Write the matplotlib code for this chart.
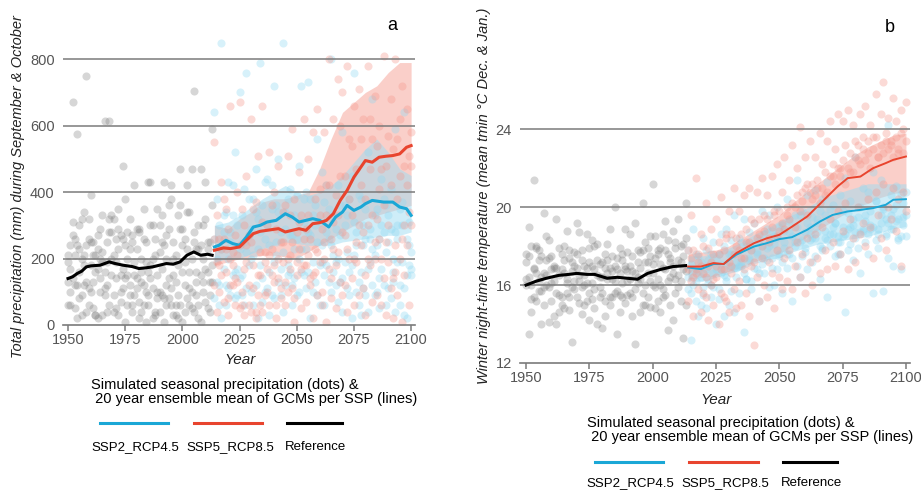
import numpy as np
import matplotlib
matplotlib.use("Agg")
import matplotlib.pyplot as plt
from matplotlib.lines import Line2D

plt.rcParams['font.family'] = ['Liberation Sans', 'DejaVu Sans']

W, H = 921, 492

# ---------------- data: panel a (precipitation) ----------------
ref_years = list(range(1950, 2014))
fut_years = list(range(2014, 2101))

p_ref_dots = [
    [210, 170, 670, 120, 575, 230, 320, 180, 750, 60,
     390, 250, 30, 170, 200, 330, 615, 120, 615, 280,
     90, 260, 350, 150, 480, 240, 60, 320, 270, 420,
     110, 290, 130, 60, 250, 430, 180, 300, 40, 350,
     220, 90, 430, 270, 140, 380, 200, 60, 330, 470,
     240, 120, 420, 160, 470, 705, 90, 300, 470, 130,
     430, 50, 250, 590],
    [130, 60, 310, 210, 20, 160, 90, 340, 240, 110,
     180, 50, 210, 270, 100, 30, 160, 250, 60, 330,
     210, 140, 30, 270, 110, 380, 200, 90, 250, 150,
     290, 70, 200, 120, 10, 160, 430, 110, 260, 80,
     300, 170, 10, 120, 360, 60, 250, 130, 20, 290,
     10, 260, 80, 340, 200, 40, 230, 60, 150, 300,
     170, 250, 130, 360],
    [60, 240, 140, 50, 120, 300, 30, 210, 130, 320,
     100, 210, 160, 20, 290, 220, 90, 190, 280, 150,
     320, 50, 230, 100, 260, 10, 150, 230, 60, 190,
     140, 280, 40, 350, 100, 60, 300, 200, 30, 150,
     100, 330, 240, 60, 80, 420, 150, 30, 180, 360,
     290, 190, 230, 60, 100, 250, 160, 20, 240, 100,
     320, 160, 90, 180],
    [190, 100, 270, 260, 240, 80, 200, 120, 40, 260,
     250, 130, 30, 230, 140, 190, 110, 40, 320, 200,
     40, 190, 290, 70, 170, 140, 280, 120, 40, 90,
     230, 20, 160, 260, 190, 90, 140, 20, 210, 100,
     40, 250, 80, 200, 290, 110, 30, 210, 90, 60,
     160, 40, 340, 110, 50, 280, 130, 230, 10, 200,
     70, 230, 40, 130],
]

p_ssp2_dots = [
    [640, 200, 120, 850, 330, 60, 430, 280, 150, 520,
     170, 700, 90, 250, 760, 380, 200, 60, 470, 320,
     790, 140, 260, 440, 30, 350, 720, 210, 500, 90,
     850, 290, 180, 410, 60, 330, 260, 480, 720, 150,
     230, 730, 380, 100, 300, 560, 180, 460, 60, 280,
     350, 800, 210, 120, 420, 270, 580, 190, 330, 90,
     450, 760, 240, 130, 380, 300, 90, 520, 260, 680,
     210, 350, 140, 440, 280, 60, 330, 410, 200, 590,
     300, 120, 370, 640, 260, 180, 220],
    [260, 380, 60, 230, 170, 340, 110, 250, 420, 80,
     300, 230, 150, 410, 110, 180, 290, 380, 120, 230,
     180, 360, 100, 300, 160, 420, 80, 250, 340, 170,
     220, 120, 380, 160, 270, 140, 390, 100, 230, 310,
     400, 160, 270, 190, 360, 90, 310, 240, 150, 420,
     130, 240, 330, 190, 70, 360, 140, 300, 220, 380,
     180, 310, 100, 390, 30, 240, 350, 170, 290, 120,
     330, 100, 260, 170, 380, 220, 110, 290, 160, 40,
     260, 350, 190, 30, 150, 310, 170],
    [80, 130, 300, 20, 280, 120, 200, 90, 330, 160,
     90, 140, 330, 60, 220, 270, 100, 210, 340, 20,
     280, 70, 430, 110, 240, 90, 190, 360, 130, 280,
     40, 340, 150, 270, 120, 230, 90, 200, 160, 380,
     110, 280, 20, 330, 130, 250, 60, 190, 370, 180,
     260, 100, 160, 290, 200, 130, 40, 360, 110, 160,
     20, 210, 280, 60, 160, 110, 260, 40, 190, 230,
     90, 240, 50, 300, 120, 360, 250, 80, 130, 280,
     190, 60, 300, 110, 20, 240, 150],
]

p_ssp5_dots = [
    [550, 190, 100, 430, 260, 350, 80, 660, 220, 140,
     400, 670, 60, 300, 450, 120, 620, 350, 40, 510,
     220, 660, 90, 300, 520, 150, 400, 60, 480, 250,
     340, 130, 510, 210, 590, 10, 280, 460, 170, 620,
     290, 500, 140, 580, 230, 650, 330, 100, 580, 420,
     800, 260, 620, 180, 740, 450, 700, 120, 780, 380,
     540, 660, 250, 710, 420, 620, 150, 780, 470, 560,
     690, 320, 600, 470, 810, 250, 570, 680, 140, 800,
     560, 450, 720, 300, 650, 510, 480],
    [260, 330, 180, 230, 380, 160, 290, 200, 120, 270,
     210, 50, 350, 170, 240, 270, 40, 180, 370, 150,
     60, 310, 220, 170, 210, 360, 130, 290, 200, 110,
     250, 360, 200, 330, 110, 380, 190, 230, 330, 260,
     180, 330, 260, 150, 380, 220, 410, 290, 200, 330,
     420, 140, 310, 390, 220, 600, 280, 450, 230, 560,
     330, 200, 470, 300, 560, 280, 380, 200, 620, 330,
     250, 540, 410, 200, 360, 480, 300, 420, 530, 240,
     380, 620, 260, 480, 420, 340, 580],
    [120, 40, 260, 150, 70, 230, 30, 120, 180, 60,
     130, 240, 100, 30, 190, 60, 250, 110, 20, 90,
     150, 40, 190, 100, 60, 230, 180, 20, 140, 80,
     190, 60, 100, 170, 250, 80, 150, 310, 50, 180,
     70, 210, 120, 20, 160, 90, 190, 60, 250, 10,
     170, 80, 230, 50, 330, 130, 90, 270, 40, 200,
     140, 60, 190, 90, 240, 110, 30, 300, 180, 70,
     200, 90, 260, 60, 140, 30, 190, 110, 20, 160,
     90, 200, 10, 150, 240, 60, 300],
]

p_ref_yr = [1950, 1952, 1954, 1956, 1958, 1960, 1964, 1968, 1970, 1974, 1978, 1981,
            1984, 1987, 1990, 1993, 1996, 1999, 2002, 2005, 2008, 2011, 2013]
p_ref = [140, 145, 155, 162, 175, 178, 180, 190, 186, 180, 176, 170,
         172, 175, 180, 185, 183, 190, 210, 220, 210, 213, 210]

p_ssp2_yr = [2014, 2016, 2019, 2022, 2025, 2028, 2031, 2034, 2037, 2041, 2045, 2048,
             2051, 2054, 2057, 2060, 2064, 2067, 2070, 2072, 2075, 2078, 2080, 2083,
             2086, 2088, 2092, 2095, 2098, 2100]
p_ssp2 = [235, 240, 255, 245, 240, 265, 295, 300, 310, 315, 335, 325,
          310, 315, 320, 315, 295, 325, 340, 360, 345, 355, 365, 375,
          372, 370, 370, 355, 350, 330]

p_ssp5_yr = [2014, 2018, 2021, 2025, 2028, 2031, 2034, 2037, 2042, 2045, 2048, 2051,
             2054, 2057, 2060, 2063, 2066, 2069, 2072, 2075, 2078, 2080, 2083, 2086,
             2089, 2092, 2095, 2098, 2100]
p_ssp5 = [225, 232, 230, 235, 255, 275, 282, 285, 290, 280, 285, 290,
          285, 305, 308, 315, 335, 375, 405, 445, 475, 495, 490, 505,
          508, 510, 515, 535, 540]

band_years = [2014, 2020, 2025, 2030, 2035, 2040, 2045, 2050, 2055, 2060,
              2065, 2070, 2075, 2080, 2085, 2090, 2095, 2100]
p_red_lo = [180, 190, 200, 205, 210, 210, 205, 200, 220, 240, 260, 280, 300, 320, 330, 340, 350, 360]
p_red_hi = [300, 290, 320, 340, 370, 380, 380, 390, 400, 470, 560, 640, 670, 700, 720, 760, 790, 790]
p_blue_lo = [190, 200, 200, 215, 230, 240, 250, 245, 240, 240, 240, 250, 255, 260, 265, 270, 270, 280]
p_blue_hi = [300, 310, 330, 355, 380, 400, 420, 400, 390, 400, 420, 450, 490, 530, 560, 520, 470, 450]

# ---------------- data: panel b (temperature) ----------------
t_ref_dots = [
    [17.2, 19.0, 15.3, 21.4, 16.6, 17.8, 14.0, 19.7, 16.0, 18.3,
     15.2, 17.0, 19.4, 14.6, 16.8, 18.0, 15.6, 17.8, 13.1, 16.2,
     19.2, 15.1, 17.3, 16.0, 18.6, 14.2, 17.0, 15.8, 18.1, 16.4,
     13.8, 17.6, 16.3, 18.9, 15.4, 20.0, 16.8, 14.6, 17.6, 18.9,
     15.5, 17.0, 14.4, 19.2, 16.1, 17.7, 20.2, 15.0, 17.2, 18.5,
     21.2, 14.8, 17.6, 16.0, 18.6, 19.3, 13.7, 17.4, 18.8, 15.6,
     19.4, 16.2, 18.1, 20.2],
    [16.0, 13.5, 18.0, 16.8, 15.2, 17.3, 16.4, 15.0, 18.5, 14.1,
     17.5, 16.2, 14.0, 17.9, 15.4, 16.6, 18.8, 14.7, 17.2, 15.8,
     16.9, 18.7, 14.5, 17.0, 16.1, 17.9, 15.3, 18.0, 14.0, 17.1,
     16.4, 15.2, 18.1, 16.9, 17.5, 15.6, 13.5, 16.6, 17.3, 15.1,
     17.7, 15.6, 16.7, 13.0, 17.8, 16.3, 15.0, 18.2, 16.6, 14.9,
     17.1, 15.9, 17.8, 14.6, 16.9, 15.5, 17.6, 16.4, 14.2, 17.9,
     15.9, 17.2, 13.3, 18.4],
    [17.6, 16.4, 14.6, 16.9, 18.0, 15.7, 17.5, 15.9, 16.5, 17.4,
     16.1, 14.4, 16.9, 15.5, 17.6, 14.8, 16.3, 17.4, 15.9, 17.7,
     15.4, 16.5, 17.8, 15.0, 16.9, 15.6, 18.3, 14.8, 16.5, 15.9,
     17.2, 14.4, 16.6, 15.4, 16.3, 17.0, 15.7, 17.9, 15.4, 16.8,
     16.2, 18.6, 15.4, 16.6, 17.2, 14.6, 17.8, 16.0, 15.4, 17.5,
     16.0, 17.4, 15.2, 17.9, 15.8, 16.8, 18.3, 15.0, 16.6, 16.3,
     17.3, 15.2, 16.8, 15.0],
    [16.3, 17.5, 16.0, 15.4, 17.9, 16.2, 15.7, 16.6, 17.3, 15.9,
     16.8, 16.9, 15.6, 16.5, 15.0, 17.3, 16.1, 15.4, 16.7, 17.0,
     17.6, 16.2, 15.9, 16.5, 15.2, 17.2, 16.1, 16.8, 17.3, 15.4,
     15.6, 16.9, 17.3, 15.0, 16.7, 16.2, 17.4, 15.5, 16.1, 17.0,
     16.7, 16.3, 17.5, 15.8, 16.4, 16.9, 15.6, 17.2, 17.9, 16.2,
     16.6, 18.5, 16.3, 17.1, 15.4, 17.8, 16.2, 17.2, 17.0, 18.2,
     16.5, 18.0, 17.5, 16.7],
]

t_ssp2_dots = [
    [17.8, 15.6, 18.9, 16.2, 17.5, 15.0, 18.4, 16.8, 17.3, 16.0,
     18.2, 14.0, 17.6, 18.6, 16.5, 18.9, 17.0, 15.7, 19.6, 16.9,
     18.4, 17.2, 19.4, 16.3, 18.7, 17.8, 19.2, 16.8, 18.3, 19.8,
     17.4, 18.9, 19.6, 16.9, 18.5, 20.0, 17.6, 19.1, 18.2, 20.4,
     18.7, 17.4, 19.6, 21.4, 18.2, 19.8, 17.9, 20.6, 19.0, 18.4,
     20.9, 19.2, 18.0, 20.4, 19.6, 21.3, 18.6, 20.1, 19.2, 17.6,
     20.6, 19.8, 21.5, 18.9, 20.3, 19.4, 22.6, 20.0, 18.7, 21.0,
     19.6, 20.8, 19.1, 21.8, 20.3, 18.9, 21.4, 20.0, 19.4, 24.2,
     20.6, 19.9, 21.1, 18.4, 20.7, 19.5, 20.8],
    [16.4, 17.1, 16.0, 17.6, 16.7, 17.2, 15.5, 17.8, 16.3, 17.6,
     16.6, 17.4, 15.8, 17.1, 18.0, 16.4, 17.6, 18.3, 16.9, 17.2,
     17.0, 18.2, 16.6, 18.0, 17.3, 16.2, 18.1, 17.6, 16.6, 18.0,
     18.6, 17.3, 18.0, 18.8, 16.0, 18.4, 19.0, 17.2, 18.8, 17.6,
     19.3, 18.5, 18.0, 19.0, 19.6, 17.5, 18.7, 19.2, 18.3, 19.5,
     18.4, 19.4, 19.8, 17.8, 18.8, 18.3, 19.9, 18.6, 19.2, 18.5,
     18.2, 19.0, 18.6, 19.7, 18.1, 19.1, 18.7, 19.5, 20.0, 18.9,
     19.3, 18.6, 19.8, 19.0, 20.3, 18.6, 19.6, 19.9, 18.5, 19.2,
     19.6, 18.9, 20.1, 19.4, 18.5, 20.2, 19.6],
    [15.8, 13.2, 16.7, 15.2, 14.4, 16.4, 15.9, 14.8, 16.1, 15.4,
     15.9, 16.8, 15.3, 16.6, 14.4, 16.2, 15.0, 17.6, 14.6, 16.4,
     15.6, 17.0, 13.6, 16.3, 17.4, 15.8, 16.9, 17.7, 15.2, 17.1,
     16.6, 17.9, 15.9, 17.4, 18.1, 16.8, 17.5, 15.6, 17.9, 16.9,
     17.6, 15.2, 18.2, 17.0, 16.4, 18.3, 17.7, 16.8, 18.6, 17.2,
     17.5, 18.7, 16.3, 17.9, 18.4, 15.4, 18.0, 19.0, 17.5, 18.2,
     17.6, 18.5, 14.6, 17.8, 19.0, 17.3, 18.4, 17.9, 16.6, 18.8,
     18.2, 17.6, 18.9, 15.6, 18.3, 17.9, 19.2, 15.7, 18.6, 17.4,
     18.9, 17.0, 19.3, 18.3, 16.8, 19.1, 18.5],
]

t_ssp5_dots = [
    [17.8, 19.6, 16.4, 21.5, 17.2, 18.6, 15.6, 20.2, 17.0, 18.9,
     16.3, 19.4, 17.6, 20.5, 15.4, 18.6, 19.8, 17.0, 21.0, 18.4,
     19.8, 17.4, 20.6, 18.2, 21.0, 19.4, 17.2, 20.8, 18.6, 21.5,
     19.6, 20.6, 18.4, 21.6, 19.8, 22.2, 18.8, 20.8, 22.6, 19.6,
     21.4, 23.2, 20.0, 22.0, 24.1, 20.8, 22.6, 21.2, 23.4, 20.4,
     22.6, 21.0, 23.8, 22.2, 20.6, 23.4, 24.4, 21.6, 23.0, 24.8,
     22.0, 24.4, 23.2, 25.0, 21.8, 24.2, 23.4, 22.4, 24.8, 23.6,
     25.2, 22.8, 24.2, 23.6, 25.8, 22.6, 24.8, 26.4, 23.4, 24.6,
     23.2, 25.6, 24.4, 22.8, 25.0, 24.0, 25.4],
    [16.8, 17.4, 17.8, 16.6, 17.6, 17.0, 18.0, 16.4, 17.9, 17.2,
     17.6, 17.0, 18.2, 16.8, 17.8, 18.4, 17.2, 18.6, 17.6, 18.0,
     17.8, 18.6, 17.4, 18.9, 18.2, 17.8, 19.2, 18.4, 19.4, 18.0,
     18.8, 19.4, 18.2, 19.0, 19.6, 18.5, 19.8, 19.2, 18.9, 20.0,
     19.4, 20.2, 19.0, 20.6, 19.8, 20.3, 21.0, 19.6, 20.8, 21.2,
     20.6, 21.4, 20.2, 21.0, 21.8, 20.8, 21.6, 22.2, 21.2, 22.0,
     21.6, 22.4, 21.2, 22.0, 22.8, 21.8, 22.6, 23.2, 22.2, 23.0,
     22.4, 23.4, 22.0, 23.0, 23.6, 22.6, 23.2, 22.8, 23.8, 23.0,
     23.4, 22.6, 23.6, 23.0, 23.8, 22.8, 23.4],
    [15.2, 16.2, 14.4, 16.8, 15.8, 14.6, 16.6, 15.4, 14.2, 16.0,
     15.0, 16.4, 14.0, 15.6, 16.8, 15.2, 14.6, 16.6, 15.8, 14.8,
     16.2, 15.0, 16.8, 15.6, 14.4, 17.0, 12.9, 16.4, 15.2, 17.4,
     16.0, 15.4, 17.2, 16.6, 14.8, 17.8, 16.4, 15.8, 17.4, 16.2,
     17.8, 15.8, 17.0, 18.2, 16.4, 17.6, 15.6, 18.4, 17.2, 16.0,
     18.6, 17.4, 16.6, 19.0, 17.8, 16.8, 19.4, 18.2, 17.0, 19.8,
     17.6, 18.8, 20.2, 16.8, 19.4, 18.4, 17.2, 20.0, 18.6, 19.2,
     18.0, 20.4, 19.0, 17.4, 20.8, 19.6, 18.4, 21.2, 17.8, 20.0,
     19.4, 21.0, 18.8, 20.4, 17.0, 20.8, 19.8],
]

t_ref_yr = [1950, 1954, 1958, 1963, 1967, 1970, 1974, 1977, 1982, 1986, 1990, 1994,
            1998, 2003, 2008, 2013]
t_ref = [16.0, 16.2, 16.35, 16.5, 16.55, 16.6, 16.55, 16.55, 16.35, 16.4, 16.35, 16.3,
         16.6, 16.8, 16.95, 17.0]

t_ssp2_yr = [2014, 2019, 2024, 2028, 2033, 2040, 2045, 2050, 2055, 2061, 2066, 2071,
             2077, 2082, 2087, 2092, 2095, 2100]
t_ssp2 = [16.9, 16.82, 17.08, 17.08, 17.56, 17.98, 18.15, 18.36, 18.46, 18.84, 19.26, 19.6,
          19.78, 19.86, 19.95, 20.12, 20.38, 20.41]

t_ssp5_yr = [2014, 2019, 2024, 2028, 2033, 2040, 2045, 2050, 2055, 2061, 2065, 2069,
             2073, 2077, 2082, 2087, 2092, 2095, 2100]
t_ssp5 = [16.95, 16.95, 17.13, 17.08, 17.64, 18.15, 18.4, 18.58, 19.0, 19.52, 20.03, 20.55,
          21.06, 21.49, 21.57, 22.0, 22.26, 22.43, 22.6]

t_red_lo = [16.3, 16.4, 16.5, 16.7, 16.9, 17.2, 17.4, 17.6, 18.0, 18.4, 18.8, 19.2, 19.6, 20.0, 20.2, 20.5, 20.7, 20.8]
t_red_hi = [17.6, 17.7, 17.8, 18.0, 18.4, 18.8, 19.2, 19.6, 20.2, 20.7, 21.2, 21.7, 22.2, 22.7, 23.1, 23.4, 23.7, 23.8]
t_blue_lo = [16.2, 16.2, 16.4, 16.6, 16.8, 17.1, 17.3, 17.4, 17.7, 17.9, 18.1, 18.2, 18.3, 18.4, 18.5, 18.7, 18.9, 19.0]
t_blue_hi = [17.5, 17.5, 17.7, 17.9, 18.2, 18.6, 18.9, 19.3, 19.6, 19.9, 20.3, 20.6, 20.8, 21.0, 21.2, 21.2, 21.2, 21.2]

xticks = [1950, 1975, 2000, 2025, 2050, 2075, 2100]
legend_labels = ["SSP2_RCP4.5", "SSP5_RCP8.5", "Reference"]
legend_title = "Simulated seasonal precipitation (dots) &\n 20 year ensemble mean of GCMs per SSP (lines)"

# colours
BLUE = '#1aa7d6'
RED = '#e8442e'
GRID = '#7a7a7a'
TICK = '#555555'


def fx(x):
    return x / W


def fy(y):
    return 1 - y / H


def draw_panel(ax, ref_dots, ssp2_dots, ssp5_dots, ref_yr, ref, s2_yr, s2, s5_yr, s5,
               blo, bhi, rlo, rhi, grid, lw):
    ax.fill_between(band_years, rlo, rhi, color='#f7a89e', alpha=0.55, lw=0)
    ax.fill_between(band_years, blo, bhi, color='#9edcf2', alpha=0.5, lw=0)
    for m in ref_dots:
        ax.scatter(ref_years, m, s=34, color='#7a7a7a', alpha=0.3, lw=0)
    for m in ssp2_dots:
        ax.scatter(fut_years, m, s=34, color='#8fd8f2', alpha=0.35, lw=0)
    for m in ssp5_dots:
        ax.scatter(fut_years, m, s=34, color='#f5978c', alpha=0.35, lw=0)
    for g in grid:
        ax.axhline(g, color=GRID, lw=1.1, zorder=1)
    ax.plot(ref_yr, ref, color='black', lw=2.2, zorder=5)
    ax.plot(s2_yr, s2, color=BLUE, lw=lw, zorder=5)
    ax.plot(s5_yr, s5, color=RED, lw=lw, zorder=5)
    for sp in ['top', 'right', 'left']:
        ax.spines[sp].set_visible(False)
    ax.spines['bottom'].set_color(GRID)
    ax.spines['bottom'].set_linewidth(1.2)
    ax.set_xticks(xticks)
    ax.tick_params(axis='x', colors=GRID, labelcolor=TICK, labelsize=10.5, length=4, width=1.1, pad=2)
    ax.tick_params(axis='y', length=0, labelcolor=TICK, labelsize=10.5, pad=6)
    ax.set_facecolor('none')


fig = plt.figure(figsize=(W / 100, H / 100), dpi=100)

# panel a
ax1 = fig.add_axes([fx(63), fy(325), fx(415) - fx(63), fy(26) - fy(325)])
draw_panel(ax1, p_ref_dots, p_ssp2_dots, p_ssp5_dots, p_ref_yr, p_ref, p_ssp2_yr, p_ssp2,
           p_ssp5_yr, p_ssp5, p_blue_lo, p_blue_hi, p_red_lo, p_red_hi, [200, 400, 600, 800], 2.2)
ax1.set_xlim(1947.8, 2101.7)
ax1.set_ylim(0, 900)
ax1.set_yticks([0, 200, 400, 600, 800])

# panel b
ax2 = fig.add_axes([fx(520), fy(363), fx(910) - fx(520), fy(26) - fy(363)])
draw_panel(ax2, t_ref_dots, t_ssp2_dots, t_ssp5_dots, t_ref_yr, t_ref, t_ssp2_yr, t_ssp2,
           t_ssp5_yr, t_ssp5, t_blue_lo, t_blue_hi, t_red_lo, t_red_hi, [16, 20, 24], 1.4)
ax2.set_xlim(1947.6, 2101.6)
ax2.set_ylim(12, 29.3)
ax2.set_yticks([12, 16, 20, 24])

# axis titles
fig.text(fx(18), fy(187), "Total precipitation (mm) during September & October", rotation=90,
         style='italic', fontsize=10.5, ha='center', va='center', color='#222222')
fig.text(fx(484), fy(196), "Winter night-time temperature (mean tmin \u00b0C Dec. & Jan.)", rotation=90,
         style='italic', fontsize=10.5, ha='center', va='center', color='#222222')
fig.text(fx(240), fy(360), "Year", style='italic', fontsize=11, ha='center', va='center', color='#222222')
fig.text(fx(716), fy(400), "Year", style='italic', fontsize=11, ha='center', va='center', color='#222222')
fig.text(fx(392), fy(25), "a", fontsize=13, ha='center', va='center')
fig.text(fx(890), fy(28), "b", fontsize=13, ha='center', va='center')

# legends below each panel
for (tx, ty, ly, lab_y, segs, lab_x) in [
        (91, 392, 423, 450, [(100, 168), (194, 262), (287, 342)], [91, 186, 285]),
        (587, 430, 462, 486, [(595, 663), (689, 758), (783, 837)], [586, 681, 781])]:
    fig.text(fx(tx), fy(ty), legend_title, fontsize=10.5, ha='left', va='center', linespacing=1.05)
    for (x0, x1), c, lx, lab in zip(segs, [BLUE, RED, 'black'], lab_x, legend_labels):
        fig.add_artist(Line2D([fx(x0), fx(x1)], [fy(ly), fy(ly)], color=c, lw=2.2,
                              transform=fig.transFigure))
        fig.text(fx(lx), fy(lab_y), lab, fontsize=9.5, ha='left', va='baseline')

fig.savefig('out.png', dpi=100)
